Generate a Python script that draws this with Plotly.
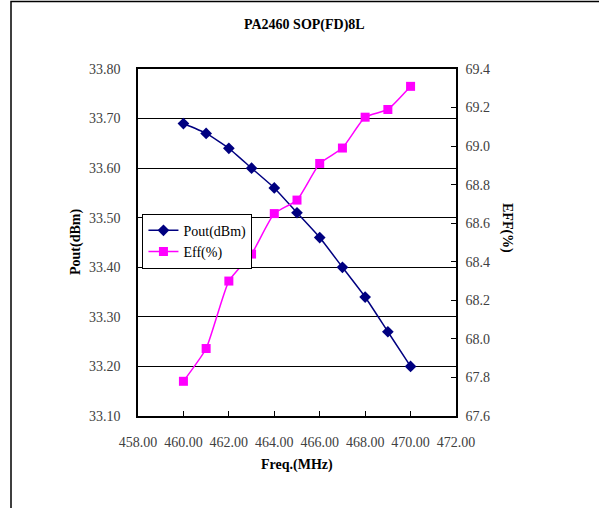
import plotly.graph_objects as go

freq = [460, 461, 462, 463, 464, 465, 466, 467, 468, 469, 470]
pout = [33.69, 33.67, 33.64, 33.60, 33.56, 33.51, 33.46, 33.40, 33.34, 33.27, 33.20]
eff = [67.78, 67.95, 68.30, 68.44, 68.65, 68.72, 68.91, 68.99, 69.15, 69.19, 69.31]

title_text = "PA2460 SOP(FD)8L"
x_title = "Freq.(MHz)"
y1_title = "Pout(dBm)"
y2_title = "EFF(%)"

FONT = "Liberation Serif"
TICK = dict(family=FONT, size=14, color="#404040")

fig = go.Figure()
fig.add_trace(go.Scatter(
    x=freq, y=pout, name="Pout(dBm)", mode="lines+markers",
    line=dict(color="#000080", width=1.5, shape="spline", smoothing=0.5),
    marker=dict(symbol="diamond", size=9, color="#000080"),
    yaxis="y"))
fig.add_trace(go.Scatter(
    x=freq, y=eff, name="Eff(%)", mode="lines+markers",
    line=dict(color="#FF00FF", width=1.5, shape="spline", smoothing=0.5),
    marker=dict(symbol="square", size=9, color="#FF00FF"),
    yaxis="y2"))

def ann(text, px, py, angle=0):
    return dict(text="<b>" + text + "</b>", xref="paper", yref="paper",
                x=(px - 138) / 318, y=(416 - py) / 347, showarrow=False,
                xanchor="center", yanchor="middle", textangle=angle,
                font=dict(family=FONT, size=14, color="black"))

fig.update_layout(
    width=599, height=508,
    margin=dict(l=138, r=143, t=69, b=92),
    paper_bgcolor="white", plot_bgcolor="white",
    showlegend=True,
    legend=dict(x=0.014, y=0.583, xanchor="left", yanchor="top",
                bgcolor="white", bordercolor="black", borderwidth=1,
                font=dict(family=FONT, size=14, color="black"),
                tracegroupgap=0, itemwidth=30),
    xaxis=dict(range=[458, 472], dtick=2, tick0=458, tickformat=".2f",
               showline=True, linecolor="black", linewidth=1.5, mirror=True,
               ticks="inside", ticklen=5, tickcolor="black",
               ticklabelstandoff=12, automargin=False,
               showgrid=False, zeroline=False, tickfont=TICK),
    yaxis=dict(range=[33.1, 33.8], dtick=0.1, tick0=33.1, tickformat=".2f",
               showline=True, linecolor="black", linewidth=1.5,
               ticks="inside", ticklen=5, tickcolor="black",
               ticklabelstandoff=13, automargin=False,
               showgrid=True, gridcolor="black", gridwidth=1,
               zeroline=False, tickfont=TICK),
    yaxis2=dict(range=[67.6, 69.4], dtick=0.2, tick0=67.6, tickformat=".1f",
                overlaying="y", side="right",
                showline=True, linecolor="black", linewidth=1.5,
                ticks="inside", ticklen=5, tickcolor="black",
                ticklabelstandoff=5, automargin=False,
                showgrid=False, zeroline=False, tickfont=TICK),
    annotations=[
        ann(title_text, 304, 25),
        ann(x_title, 297, 465),
        ann(y1_title, 76, 242, -90),
        ann(y2_title, 507, 228, 90),
    ],
    shapes=[
        dict(type="rect", xref="paper", yref="paper",
             x0=(11 - 138) / 318, x1=2.0, y0=-1.0, y1=(416 - 1.5) / 347,
             line=dict(color="black", width=1.5), layer="below"),
    ],
)

fig.write_html("out.html", config={"displayModeBar": False})

# remove the default 8px body margin so the figure sits at the window origin
with open("out.html", "r", encoding="utf-8") as f:
    html = f.read()
html = html.replace("<body>", '<body style="margin:0;overflow:hidden">', 1)
with open("out.html", "w", encoding="utf-8") as f:
    f.write(html)
